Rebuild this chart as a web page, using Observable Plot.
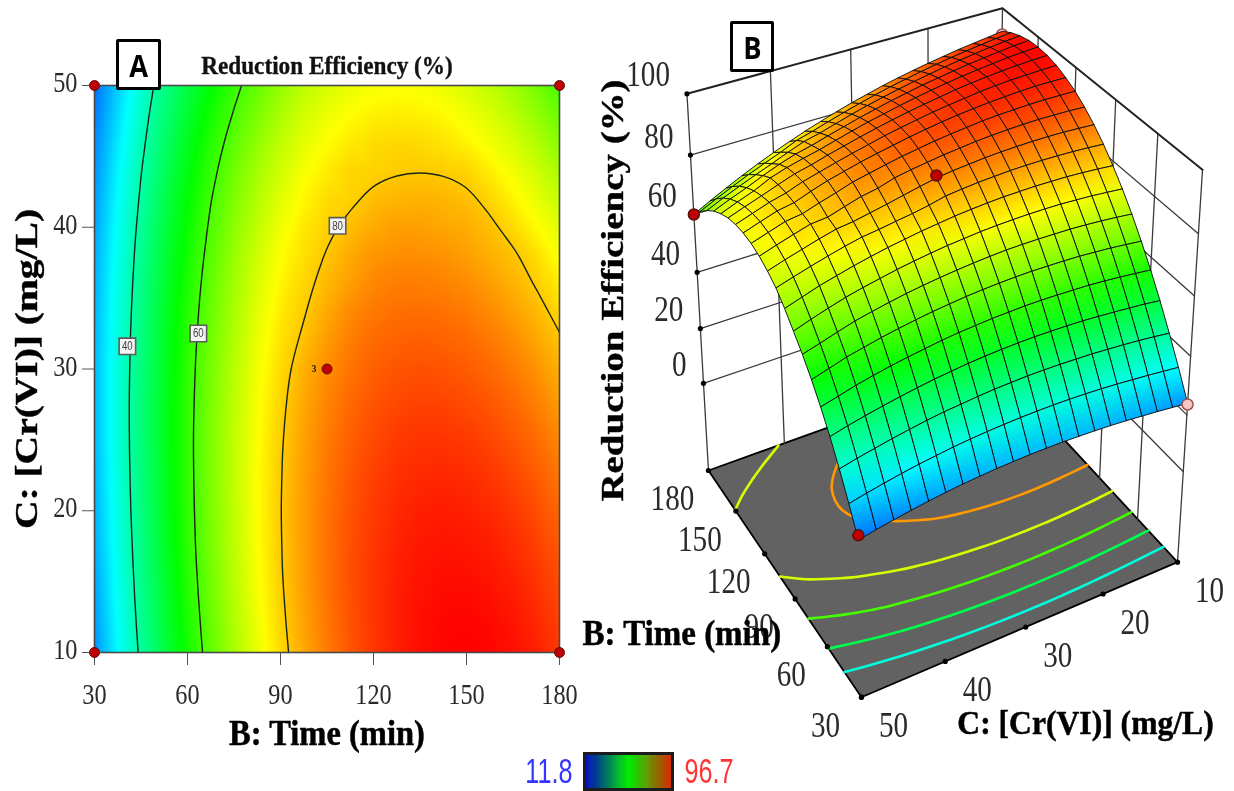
<!DOCTYPE html>
<html><head><meta charset="utf-8">
<script src="https://cdn.jsdelivr.net/npm/d3@7"></script>
<script src="https://cdn.jsdelivr.net/npm/@observablehq/plot@0.6"></script>
<style>
html,body{margin:0;background:#fff;overflow:hidden}
#wrap{position:relative;width:1234px;height:791px;filter:blur(.45px)}
#wrap svg{position:absolute;left:0;top:0}
.tag{position:absolute;box-sizing:border-box;border:3.5px solid #000;background:#fff;display:flex;align-items:center;justify-content:center;font:bold 31px "Open Sans",sans-serif;color:#000;border-radius:2px}
.tag span{display:block;transform:scaleX(.88)}
</style></head><body><div id="wrap"></div>
<script>
// Axis ticks
const timeTicks = [30, 60, 90, 120, 150, 180];
const concTicks = [10, 20, 30, 40, 50];
const effTicks = [0, 20, 40, 60, 80, 100];
const floorEff = -33;
// Grid the response was read on
const timeGrid = [30,37.5,45,52.5,60,67.5,75,82.5,90,97.5,105,112.5,120,127.5,135,142.5,150,157.5,165,172.5,180];
const concGrid = [10,12,14,16,18,20,22,24,26,28,30,32,34,36,38,40,42,44,46,48,50];
// Reduction efficiency (%): one row per [Cr(VI)], one column per time
const surface = [
[24.0,32.8,41.0,48.7,55.8,62.3,68.3,73.7,78.5,82.8,86.5,89.6,92.2,94.1,95.6,96.4,96.7,96.4,95.5,94.1,92.1],
[24.6,33.4,41.7,49.4,56.4,62.9,68.9,74.2,79.0,83.2,86.8,89.9,92.3,94.2,95.5,96.2,96.4,96.0,95.0,93.5,91.4],
[25.2,34.0,42.3,49.9,57.0,63.5,69.4,74.7,79.4,83.5,87.1,90.0,92.4,94.2,95.3,95.9,96.0,95.4,94.4,92.8,90.7],
[25.7,34.5,42.8,50.4,57.5,63.9,69.8,75.0,79.7,83.7,87.2,90.1,92.3,94.0,95.1,95.5,95.4,94.8,93.7,92.1,90.0],
[26.2,35.0,43.2,50.8,57.9,64.3,70.1,75.3,79.8,83.8,87.2,90.0,92.1,93.7,94.7,95.0,94.8,94.1,92.9,91.3,89.1],
[26.6,35.4,43.6,51.2,58.1,64.5,70.2,75.4,79.9,83.8,87.1,89.8,91.9,93.3,94.2,94.4,94.1,93.3,92.1,90.4,88.2],
[26.9,35.7,43.8,51.4,58.3,64.6,70.3,75.4,79.8,83.7,86.9,89.5,91.5,92.8,93.5,93.7,93.3,92.4,91.1,89.4,87.2],
[27.1,35.9,44.0,51.5,58.4,64.7,70.3,75.3,79.7,83.4,86.6,89.1,90.9,92.2,92.8,92.8,92.4,91.5,90.1,88.3,86.1],
[27.3,36.0,44.1,51.6,58.4,64.6,70.2,75.1,79.4,83.1,86.1,88.5,90.3,91.5,92.0,91.9,91.4,90.4,89.0,87.2,84.9],
[27.3,36.0,44.1,51.5,58.2,64.4,69.9,74.8,79.0,82.6,85.6,87.9,89.6,90.6,91.0,90.9,90.3,89.3,87.8,85.9,83.5],
[27.3,35.9,43.9,51.3,58.0,64.1,69.5,74.3,78.5,82.0,84.9,87.1,88.7,89.7,90.0,89.8,89.1,88.0,86.5,84.5,82.1],
[27.1,35.7,43.7,51.0,57.6,63.7,69.0,73.8,77.8,80.7,83.8,86.3,87.8,88.6,88.9,88.6,87.9,86.7,85.1,83.0,80.5],
[26.9,35.4,43.3,50.6,57.2,63.1,68.4,73.1,77.1,79.7,82.6,85.3,86.7,87.5,87.6,87.3,86.5,85.2,83.5,81.4,78.8],
[26.5,35.0,42.8,50.0,56.6,62.5,67.7,72.3,76.2,78.9,81.4,83.6,85.5,86.3,86.3,85.9,85.0,83.7,81.9,79.7,77.0],
[26.1,34.5,42.3,49.4,55.8,61.7,66.9,71.4,75.3,78.0,80.3,82.6,84.3,84.9,84.9,84.5,83.5,82.1,80.6,78.2,75.0],
[25.5,33.8,41.6,48.6,55.0,60.8,65.9,70.3,74.2,77.3,79.2,81.0,82.5,83.5,83.4,82.9,82.2,80.8,78.6,75.8,72.9],
[24.8,33.1,40.7,47.7,54.1,59.8,64.8,69.2,73.0,76.1,78.5,79.3,80.9,81.7,81.9,81.6,80.8,79.0,76.4,73.7,70.6],
[24.0,32.2,39.8,46.7,53.0,58.6,63.6,67.9,71.6,74.7,77.1,78.8,79.1,79.7,79.9,79.7,79.0,76.9,74.3,71.5,68.2],
[23.1,31.2,38.7,45.6,51.8,57.4,62.0,66.3,70.2,73.2,75.5,77.2,78.3,78.7,78.5,77.7,76.4,74.5,72.1,69.1,65.6],
[22.1,30.1,37.6,44.4,50.3,55.7,60.3,64.6,68.4,71.6,73.9,75.5,76.5,76.9,76.6,75.8,74.4,72.4,69.8,66.6,62.9],
[20.9,28.9,36.3,43.0,48.9,54.1,58.7,62.7,66.6,69.9,72.1,73.7,74.7,75.0,74.7,73.8,72.2,70.1,67.3,64.0,60.0]
];
// Contour levels, labels and design points
const contourLevels = [40, 60, 80];
const floorLevels = [36, 48, 60, 72, 84];
const contourLabelTime = [40.6, 63.5, 108.4];
const contourLabelConc = [31.6, 32.5, 40.1];
const contourLabelText = ["40", "60", "80"];
const pointTime = [30, 30, 180, 180, 105];
const pointConc = [10, 50, 10, 50, 30];
const pointEff = [23.6, 22.5, 91, 60, 85.7];
// Colours
const colorStops = [11.8, 33, 54.3, 75.5, 96.7];
const colorHues = ["#0000ff", "#00ffff", "#00ff00", "#ffff00", "#ff0000"];
const legendStops = [11.8, 54.25, 96.7];
const legendHues = ["#0000c4", "#00ee00", "#e02400"];

// Flat tables built from the arrays above
const grid = concGrid.flatMap((C, i) => timeGrid.map((B, j) => ({B, C, z: surface[i][j]})));
const color = {type: "linear", domain: colorStops, range: colorHues};
const serif = "'Liberation Serif', serif";

// Contour lines of the table, cut where they meet the edge of the table
function contourLines(level) {
  const nx = timeGrid.length, ny = concGrid.length;
  const [c] = d3.contours().size([nx, ny]).thresholds([level])(surface.flat());
  const inside = ([x, y]) => x >= .5 && x <= nx - .5 && y >= .5 && y <= ny - .5;
  const out = [];
  for (const poly of c.coordinates) for (const ring of poly) {
    const pts = ring.slice(0, -1);
    const first = pts.findIndex(p => !inside(p));
    if (first < 0) { out.push(ring); continue; }
    let run = [];
    for (let k = 0; k <= pts.length; k++) {
      const p = pts[(first + k) % pts.length];
      if (inside(p)) run.push(p);
      else { if (run.length > 1) out.push(run); run = []; }
    }
  }
  return out.map(r => r.map(([x, y]) => ({B: 30 + (x - .5) * 7.5, C: 10 + (y - .5) * 2})));
}
const plainLines = contourLevels.flatMap((level, i) =>
  contourLines(level).flatMap((r, k) => r.map(p => ({...p, id: i + "-" + k}))));

// Panel A
const panelA = Plot.plot({
  width: 1234, height: 791,
  marginLeft: 94, marginRight: 675, marginTop: 85, marginBottom: 139,
  style: {fontFamily: serif, background: "transparent", color: "#2a2a2a"},
  x: {domain: [30, 180]}, y: {domain: [10, 50]}, color,
  marks: [
    Plot.raster(grid, {x: "B", y: "C", fill: "z", interpolate: "barycentric", pixelSize: 1}),
    Plot.line(plainLines, {x: "B", y: "C", z: "id", curve: "basis", stroke: "#16261a", strokeWidth: 1.4}),
    Plot.frame({stroke: "#4a4a4a", strokeWidth: 1.6}),
    Plot.axisX({ticks: timeTicks, tickSize: 13, tickPadding: 17, fontSize: 30, label: null, stroke: "#555"}),
    Plot.axisY({ticks: concTicks, tickSize: 12, text: null, label: null, stroke: "#555"}),
    Plot.text(concTicks, {y: d => d, text: d => String(d), frameAnchor: "left", textAnchor: "end", dx: -17, dy: -3, fontSize: 30}),
    Plot.dot(contourLabelTime.map((B, i) => ({B, C: contourLabelConc[i]})), {x: "B", y: "C", symbol: "square", r: 9.3, fill: "#f4f4f4", stroke: "#5c5c5c", strokeWidth: 1.6}),
    Plot.text(contourLabelTime.map((B, i) => ({B, C: contourLabelConc[i], t: contourLabelText[i]})), {x: "B", y: "C", text: "t", fontSize: 12, fontFamily: "'Liberation Sans', sans-serif", fill: "#444"}),
    Plot.dot(pointTime.map((B, i) => ({B, C: pointConc[i]})), {x: "B", y: "C", r: 5, fill: "#c00000", stroke: "#5a1010", strokeWidth: 1}),
    Plot.text([{B: 105, C: 30}], {x: "B", y: "C", text: () => "3", dx: -13, fontSize: 10, fontWeight: "bold", fill: "#111"}),
    Plot.text(["Reduction Efficiency (%)"], {text: d => d, frameAnchor: "top", lineAnchor: "middle", dy: -20, fontSize: 25, fontWeight: "bold", fill: "#111", stroke: "#111", strokeWidth: .35}),
    Plot.text(["B: Time (min)"], {text: d => d, frameAnchor: "bottom", lineAnchor: "middle", dy: 81, fontSize: 35, fontWeight: "bold", fill: "#000", stroke: "#000", strokeWidth: .5}),
    Plot.text(["C: [Cr(VI)] (mg/L)"], {text: d => d, frameAnchor: "left", textAnchor: "middle", lineAnchor: "middle", dx: -68, rotate: -90, fontSize: 39.5, fontWeight: "bold", fill: "#000", stroke: "#000", strokeWidth: .5})
  ]
});

// Panel B: the fitted camera of the 3-D box
const camera = {x: [1177, -381.3, -44.97, -86.46], y: [561.7, 82.2, -145.5, -408.1], w: [1, -.0758, .1362, -.09273]};
function project(B, C, Z) {
  const h = [1, (C - 10) / 40, (B - 30) / 150, (Z - floorEff) / (100 - floorEff)];
  const dot = a => d3.sum(a, (v, i) => v * h[i]);
  const w = dot(camera.w);
  return {px: dot(camera.x) / w, py: dot(camera.y) / w, depth: w};
}
const polyline = (id, pts) => pts.map(p => ({id, ...project(...p)}));
const wallThin = [
  ...effTicks.slice(0, -1).flatMap(z => polyline("z" + z, [[30, 10, z], [180, 10, z], [180, 50, z]])),
  ...timeTicks.flatMap(t => polyline("t" + t, [[t, 10, floorEff], [t, 10, 100]])),
  ...concTicks.slice(1).flatMap(c => polyline("c" + c, [[180, c, floorEff], [180, c, 100]]))
];
const wallTop = polyline("top", [[30, 10, 100], [180, 10, 100], [180, 50, 100]]);
const floorShape = polyline("floor", [[30, 10, floorEff], [30, 50, floorEff], [180, 50, floorEff], [180, 10, floorEff], [30, 10, floorEff]]);
const floorLines = floorLevels.flatMap((level, i) =>
  contourLines(level).flatMap((r, k) => r.map(p => ({id: i + "-" + k, level, ...project(p.B, p.C, floorEff)}))));
const quads = [];
for (let i = 0; i < concGrid.length - 1; i++) for (let j = 0; j < timeGrid.length - 1; j++) {
  const corners = [[i, j], [i + 1, j], [i + 1, j + 1], [i, j + 1], [i, j]];
  const val = d3.mean(corners.slice(0, 4), ([a, b]) => surface[a][b]);
  const pts = corners.map(([a, b]) => ({z: surface[a][b], ...project(timeGrid[b], concGrid[a], surface[a][b])}));
  quads.push({id: i * 100 + j, val, pts, depth: d3.mean(pts, p => p.depth)});
}
quads.sort((a, b) => b.depth - a.depth);
const quadRows = quads.flatMap(q => q.pts.map(p => ({id: q.id, val: q.val, px: p.px, py: p.py})));
const pts3d = pointTime.map((B, i) => ({B, C: pointConc[i], ...project(B, pointConc[i], pointEff[i])}));
const isPink = d => d.C === 10;
const zTickRows = effTicks.map(z => ({t: z, ...project(180, 50, z)}));
const bTickRows = timeTicks.map(t => ({t, ...project(t, 50, floorEff)}));
const cTickRows = concTicks.map(c => ({t: c, ...project(30, c, floorEff)}));
const labelStyle = {x: "px", y: "py", text: "t", fontSize: 36, fill: "#2a2a2a"};
const title = (s, opts) => Plot.text([s], {text: d => d, frameAnchor: "top-left", textAnchor: "middle", lineAnchor: "middle", fontWeight: "bold", fill: "#000", stroke: "#000", strokeWidth: .5, ...opts});

const panelB = Plot.plot({
  width: 1234, height: 791, margin: 0,
  style: {fontFamily: serif, background: "transparent"},
  x: {domain: [0, 1234], range: [0, 1234], axis: null},
  y: {domain: [0, 791], range: [0, 791], axis: null},
  color,
  marks: [
    Plot.line(floorShape, {x: "px", y: "py", z: "id", fill: "#626262", stroke: "#000", strokeWidth: 1.8}),
    Plot.line(wallThin, {x: "px", y: "py", z: "id", stroke: "#3a3a3a", strokeWidth: 1.3}),
    Plot.line(wallTop, {x: "px", y: "py", z: "id", stroke: "#222", strokeWidth: 2}),
    Plot.line(floorLines, {x: "px", y: "py", z: "id", curve: "basis", stroke: "level", strokeWidth: 2.6}),
    Plot.dot(zTickRows, {x: "px", y: "py", r: 2.6, fill: "#000"}),
    Plot.dot(bTickRows, {x: "px", y: "py", r: 2.6, fill: "#000"}),
    Plot.dot(cTickRows, {x: "px", y: "py", r: 2.6, fill: "#000"}),
    Plot.dot(pts3d.filter(d => d.B === 180 && isPink(d)), {x: "px", y: "py", r: 5.5, fill: "#f5c6c6", stroke: "#a05050"}),
    Plot.line(quadRows, {x: "px", y: "py", z: "id", fill: "val", stroke: "#101010", strokeWidth: .95}),
    Plot.dot(pts3d.filter(d => d.B === 30 && isPink(d)), {x: "px", y: "py", r: 5.5, fill: "#f5c6c6", stroke: "#a05050"}),
    Plot.dot(pts3d.filter(d => !isPink(d)), {x: "px", y: "py", r: 5.5, fill: "#c00000", stroke: "#5a1010"}),
    Plot.text(zTickRows, {...labelStyle, textAnchor: "end", dx: -17, dy: -19}),
    Plot.text(bTickRows, {...labelStyle, dx: -36, dy: 28}),
    Plot.text(cTickRows, {...labelStyle, dx: 32, dy: 28}),
    title("Reduction Efficiency (%)", {dx: 613, dy: 290, rotate: -90, fontSize: 39}),
    title("B: Time (min)", {dx: 582, dy: 633, textAnchor: "start", fontSize: 35.5}),
    title("C: [Cr(VI)] (mg/L)", {dx: 1085, dy: 723, fontSize: 34})
  ]
});

// Shade each mesh cell from its low side to its high side, through the chart's colour scale
(function shadeSurface() {
  const scale = panelB.scale("color");
  const ns = "http://www.w3.org/2000/svg";
  const defs = document.createElementNS(ns, "defs");
  const paths = panelB.querySelectorAll('g[aria-label="line"]')[4].querySelectorAll("path");
  quads.forEach((q, n) => {
    const v = q.pts.slice(0, 4).sort((a, b) => a.z - b.z);
    const mid = (a, b) => ({x: (a.px + b.px) / 2, y: (a.py + b.py) / 2, z: (a.z + b.z) / 2});
    const lo = mid(v[0], v[1]), hi = mid(v[2], v[3]);
    const g = document.createElementNS(ns, "linearGradient");
    g.id = "cell" + n;
    g.setAttribute("gradientUnits", "userSpaceOnUse");
    g.setAttribute("x1", lo.x); g.setAttribute("y1", lo.y);
    g.setAttribute("x2", hi.x); g.setAttribute("y2", hi.y);
    for (const [o, z] of [[0, lo.z], [1, hi.z]]) {
      const s = document.createElementNS(ns, "stop");
      s.setAttribute("offset", o);
      s.setAttribute("stop-color", scale.apply(z));
      g.append(s);
    }
    defs.append(g);
    paths[n].setAttribute("fill", "url(#cell" + n + ")");
  });
  panelB.prepend(defs);
})();

// Colour bar
const legendValues = d3.range(11.8, 96.7, 1);
const legend = Plot.plot({
  width: 240, height: 46, marginLeft: 74, marginRight: 78, marginTop: 8, marginBottom: 2,
  style: {fontFamily: "'Liberation Sans', sans-serif", background: "transparent"},
  x: {domain: [11.8, 96.7], axis: null}, y: {axis: null},
  color: {type: "linear", domain: legendStops, range: legendHues},
  marks: [
    Plot.barX(legendValues, {x1: d => d, x2: d => Math.min(d + 1.6, 96.7), fill: d => d}),
    Plot.frame({stroke: "#1c1c1c", strokeWidth: 3}),
    Plot.text([legendStops[0]], {x: d => d, text: d => d.toFixed(1), textAnchor: "end", dx: -12, fontSize: 35, fill: "#3434ff"}),
    Plot.text([legendStops[2]], {x: d => d, text: d => d.toFixed(1), textAnchor: "start", dx: 12, fontSize: 35, fill: "#ff3434"})
  ]
});

// The source picture is narrower than it is tall: squeeze the real text the same way
function squeeze(svg, plain = .81) {
  svg.querySelectorAll("text").forEach(el => {
    const t = el.getAttribute("transform") || "";
    const bold = el.closest('[font-weight="bold"]');
    const s = t.includes("rotate") ? "scale(1,.8)" : bold ? "scale(.93,1)" : `scale(${plain},1)`;
    el.setAttribute("transform", t + " " + s);
  });
  return svg;
}
const wrap = document.getElementById("wrap");
wrap.append(squeeze(panelA), squeeze(panelB), squeeze(legend, .72));
legend.style.left = "510px"; legend.style.top = "745px";

// Panel letters
const tag = (s, css) => { const d = document.createElement("div"); d.className = "tag"; d.style.cssText = css; const i = document.createElement("span"); i.textContent = s; d.append(i); wrap.append(d); };
tag("A", "left:116px;top:39px;width:45px;height:51px");
tag("B", "left:730px;top:21px;width:44px;height:51px");
</script></body></html>
